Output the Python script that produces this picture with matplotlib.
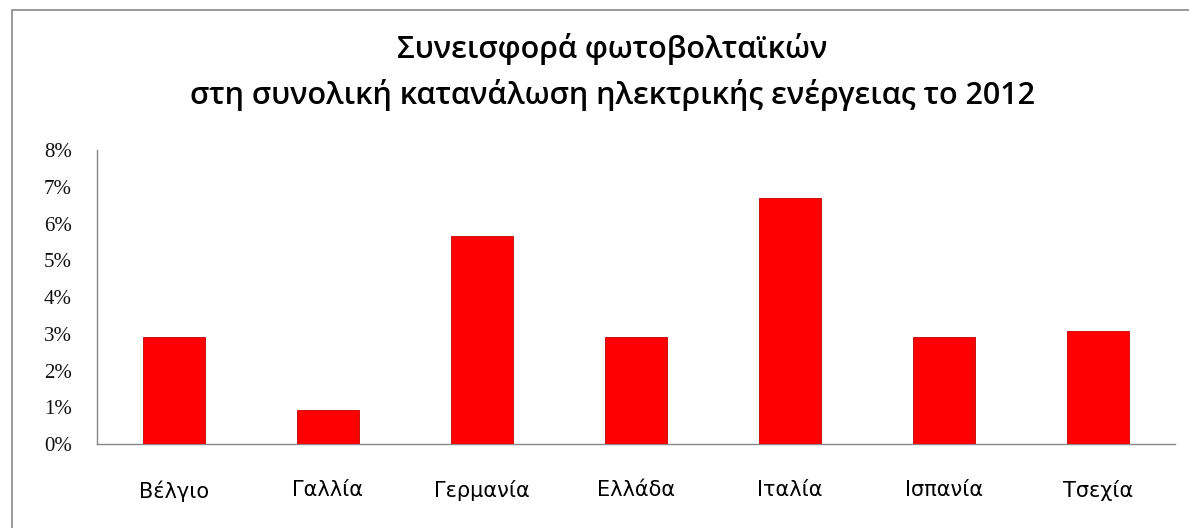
import numpy as np
import matplotlib
matplotlib.use('Agg')
import matplotlib.pyplot as plt
from matplotlib.patches import Rectangle
from matplotlib.ticker import FuncFormatter

# data
xoraes = ['Βέλγιο', 'Γαλλία', 'Γερμανία', 'Ελλάδα', 'Ιταλία', 'Ισπανία', 'Τσεχία']
pososto = [2.9, 0.92, 5.67, 2.9, 6.7, 2.9, 3.08]
yticks = [0, 1, 2, 3, 4, 5, 6, 7, 8]
titlos = 'Συνεισφορά φωτοβολταϊκών\nστη συνολική κατανάλωση ηλεκτρικής ενέργειας το 2012'

fig = plt.figure(figsize=(11.89, 5.28), dpi=100)
W, H = 1189, 528
# axes in pixel coords: left 97, right 1175, bottom 444, top 150
ax = fig.add_axes([97 / W, 1 - 444 / H, (1175 - 97) / W, (444 - 150) / H])

x = np.arange(len(xoraes))
ax.bar(x, pososto, width=0.4, color='#ff0000', edgecolor='#c00000', linewidth=0.6, zorder=3)
ax.set_xlim(-0.5, len(xoraes) - 0.5)
ax.set_ylim(0, 8)
ax.set_yticks(yticks)
ax.yaxis.set_major_formatter(FuncFormatter(lambda v, p: '%d%%' % v))
ax.set_xticks(x)
ax.set_xticklabels(xoraes, fontsize=15, family='DejaVu Sans')
for lab in ax.get_yticklabels():
    lab.set_family('Liberation Serif')
    lab.set_fontsize(15)
ax.tick_params(axis='y', length=0, pad=18, colors='#111111')
ax.tick_params(axis='x', length=0, pad=26, colors='#000000')

for s in ['top', 'right']:
    ax.spines[s].set_visible(False)
for s in ['left', 'bottom']:
    ax.spines[s].set_color('#888888')
    ax.spines[s].set_linewidth(1.0)

fig.text(612 / W, 1 - 72 / H, titlos, ha='center', va='center', fontsize=22,
         family='Open Sans', fontweight='semibold', linespacing=1.55, color='#000000',
         multialignment='center')

# marco exterior
fig.patches.append(Rectangle((12 / W, -0.05), 1.1, 1 - 10 / H + 0.05, transform=fig.transFigure,
                             fill=False, edgecolor='#888888', linewidth=1.2))

fig.savefig('out.png', dpi=100)
